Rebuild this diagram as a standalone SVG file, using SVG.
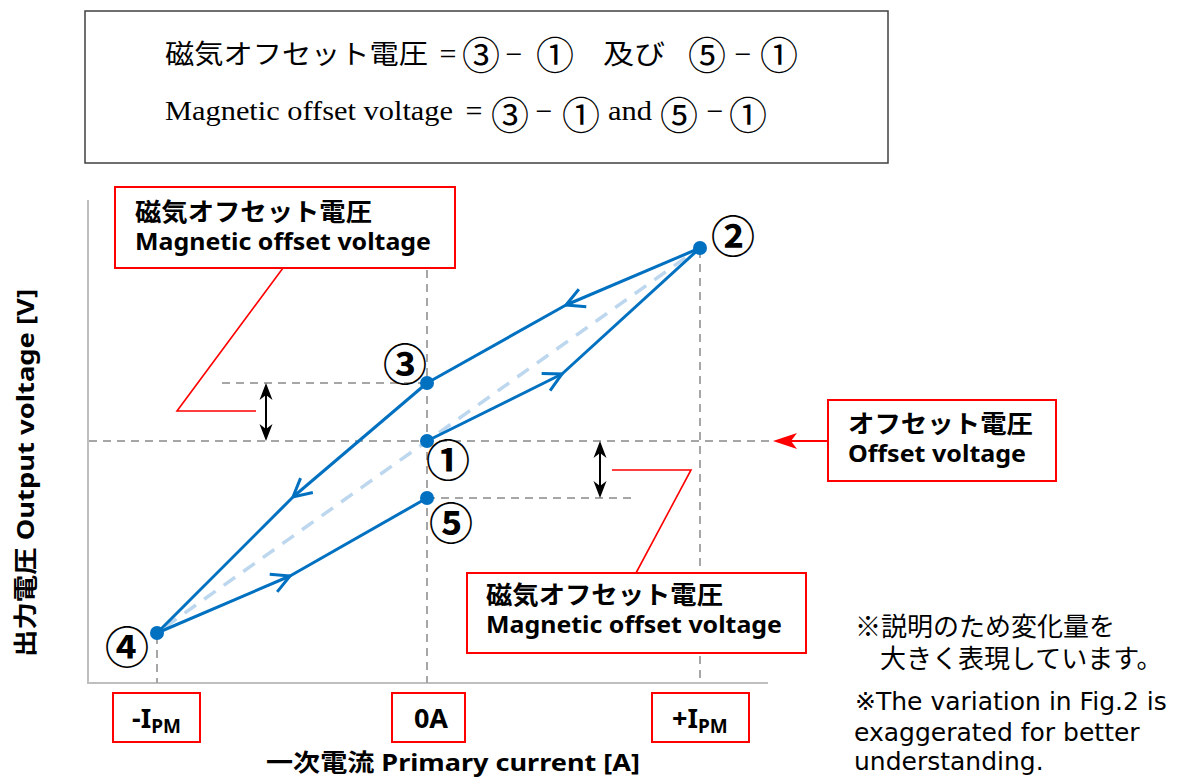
<svg xmlns="http://www.w3.org/2000/svg" width="1188" height="777" viewBox="0 0 1188 777">
<defs>
<style>
.grid{stroke:#A6A6A6;stroke-width:2;stroke-dasharray:8 6;fill:none}
.axis{stroke:#BFBFBF;stroke-width:2;fill:none}
.ideal{stroke:#BDD7EE;stroke-width:3.5;stroke-dasharray:14 10;fill:none}
.loop{stroke:#0070C0;stroke-width:3;fill:none;stroke-linejoin:round}
.dot{fill:#0070C0}
.red{stroke:#FF0000;stroke-width:2;fill:#fff}
.leader{stroke:#FF0000;stroke-width:1.6;fill:none}
.dbl{stroke:#000;stroke-width:2;fill:none}
.jp{font-family:"Noto Sans CJK JP",sans-serif;font-weight:bold;font-size:25px;fill:#000}
.en{font-family:"Noto Sans","Noto Sans CJK JP",sans-serif;font-weight:bold;font-size:24px;fill:#000}
.num{font-family:"Noto Sans CJK JP",sans-serif;font-weight:bold;font-size:44px;fill:#000;text-anchor:middle;dominant-baseline:central}
.eq{font-family:"Liberation Serif","Noto Sans CJK JP",serif;font-size:27px;fill:#000}
.eqj{font-family:"Noto Sans CJK JP",serif;font-size:27px;fill:#000}
.eqc{font-family:"Noto Sans CJK JP",serif;font-size:38px;fill:#000;text-anchor:middle;dominant-baseline:central}
.eqs{font-family:"Liberation Serif","Noto Sans CJK JP",serif;font-size:30px;fill:#000;text-anchor:middle}
.noteJ{font-family:"Noto Sans CJK JP",sans-serif;font-size:26px;fill:#000}
.noteE{font-family:"DejaVu Sans","Noto Sans CJK JP",sans-serif;font-size:25px;fill:#000}
.tick{font-family:"Noto Sans","Noto Sans CJK JP",sans-serif;font-weight:bold;font-size:27px;fill:#000}
</style>
<marker id="chev" markerUnits="userSpaceOnUse" orient="auto" markerWidth="40" markerHeight="40" viewBox="-25 -20 40 40" refX="0" refY="0" overflow="visible">
<path d="M-18,-9.5 L0,0 L-18,9.5" fill="none" stroke="#0070C0" stroke-width="3" stroke-linejoin="miter"/>
</marker>
<marker id="blk" markerUnits="userSpaceOnUse" orient="auto-start-reverse" markerWidth="40" markerHeight="40" viewBox="-20 -20 40 40" refX="0" refY="0" overflow="visible">
<path d="M10,0 L-7,-6.5 L-2,0 L-7,6.5 Z" fill="#000"/>
</marker>
<marker id="redh" markerUnits="userSpaceOnUse" orient="auto" markerWidth="40" markerHeight="40" viewBox="-20 -20 40 40" refX="0" refY="0" overflow="visible">
<path d="M10,0 L-14,-8 L-8,0 L-14,8 Z" fill="#FF0000"/>
</marker>
</defs>
<rect width="1188" height="777" fill="#fff"/>

<g id="formula-box">
<rect x="85" y="11" width="803" height="152" fill="#fff" stroke="#404040" stroke-width="1.5"/>
<text class="eqj" x="165" y="64" textLength="263" lengthAdjust="spacingAndGlyphs">磁気オフセット電圧</text>
<text class="eqs" x="448" y="64">=</text>
<text class="eqc" x="481" y="52">③</text>
<text class="eqs" x="514" y="64">−</text>
<text class="eqc" x="555" y="52">①</text>
<text class="eqj" x="603" y="64" textLength="62" lengthAdjust="spacingAndGlyphs">及び</text>
<text class="eqc" x="707" y="52">⑤</text>
<text class="eqs" x="743" y="64">−</text>
<text class="eqc" x="779" y="52">①</text>
<text class="eq" x="165" y="120" textLength="288" lengthAdjust="spacingAndGlyphs">Magnetic offset voltage</text>
<text class="eqs" x="474" y="121">=</text>
<text class="eqc" x="510" y="112">③</text>
<text class="eqs" x="544" y="121">−</text>
<text class="eqc" x="581" y="112">①</text>
<text class="eq" x="608" y="120" textLength="44" lengthAdjust="spacingAndGlyphs">and</text>
<text class="eqc" x="679" y="112">⑤</text>
<text class="eqs" x="715" y="121">−</text>
<text class="eqc" x="748" y="112">①</text>
</g>

<g id="axes">
<line class="axis" x1="88" y1="200" x2="88" y2="683"/>
<line class="axis" x1="87" y1="683" x2="768" y2="683"/>
</g>

<g id="guides">
<line class="grid" x1="427" y1="200" x2="427" y2="683"/>
<line class="grid" x1="700" y1="250" x2="700" y2="683"/>
<line class="grid" x1="157" y1="636" x2="157" y2="683"/>
<line class="grid" x1="89" y1="441" x2="770" y2="441"/>
<line class="grid" x1="222" y1="383" x2="427" y2="383"/>
<line class="grid" x1="427" y1="498" x2="634" y2="498"/>
</g>

<g id="connectors">
<line class="ideal" x1="165" y1="627" x2="695" y2="251"/>
<path class="loop" d="M427,441 L562,374" marker-end="url(#chev)"/>
<path class="loop" d="M562,374 L700,248"/>
<path class="loop" d="M700,248 L566,305" marker-end="url(#chev)"/>
<path class="loop" d="M566,305 L427,383"/>
<path class="loop" d="M427,383 L293,497" marker-end="url(#chev)"/>
<path class="loop" d="M293,497 L157,633"/>
<path class="loop" d="M157,633 L290,576" marker-end="url(#chev)"/>
<path class="loop" d="M290,576 L427,498"/>
<line class="dbl" x1="266" y1="393" x2="266" y2="431" marker-start="url(#blk)" marker-end="url(#blk)"/>
<line class="dbl" x1="600" y1="451" x2="600" y2="488" marker-start="url(#blk)" marker-end="url(#blk)"/>
<polyline class="leader" points="283,268 177,411 256,411"/>
<polyline class="leader" points="612,470 691,470 636,573"/>
<line x1="828" y1="441" x2="783" y2="441" stroke="#FF0000" stroke-width="2" marker-end="url(#redh)"/>
</g>

<g id="points">
<circle class="dot" cx="427" cy="441" r="7"/>
<circle class="dot" cx="700" cy="248" r="7"/>
<circle class="dot" cx="427" cy="383" r="7"/>
<circle class="dot" cx="157" cy="633" r="7"/>
<circle class="dot" cx="427" cy="498" r="7"/>
</g>

<g id="point-labels">
<text class="num" x="733" y="234">②</text>
<text class="num" x="405" y="362">③</text>
<text class="num" x="448" y="458">①</text>
<text class="num" x="451" y="521">⑤</text>
<text class="num" x="127" y="645">④</text>
</g>

<g id="callout-top">
<rect class="red" x="115" y="187" width="340" height="81"/>
<text class="jp" x="135" y="221" textLength="237" lengthAdjust="spacingAndGlyphs">磁気オフセット電圧</text>
<text class="en" x="135" y="250" textLength="296" lengthAdjust="spacingAndGlyphs">Magnetic offset voltage</text>
</g>

<g id="callout-bottom">
<rect class="red" x="467" y="573" width="339" height="80"/>
<text class="jp" x="486" y="604" textLength="237" lengthAdjust="spacingAndGlyphs">磁気オフセット電圧</text>
<text class="en" x="486" y="633" textLength="296" lengthAdjust="spacingAndGlyphs">Magnetic offset voltage</text>
</g>

<g id="callout-offset">
<rect class="red" x="828" y="400" width="228" height="81"/>
<text class="jp" x="848" y="433" textLength="185" lengthAdjust="spacingAndGlyphs">オフセット電圧</text>
<text class="en" x="848" y="462" textLength="178" lengthAdjust="spacingAndGlyphs">Offset voltage</text>
</g>

<g id="tick-minus">
<rect class="red" x="113" y="693" width="87" height="49"/>
<text class="tick" x="132" y="728">-I<tspan font-size="19" dy="5">PM</tspan></text>
</g>
<g id="tick-zero">
<rect class="red" x="392" y="693" width="73" height="49"/>
<text class="tick" x="431" y="728" text-anchor="middle">0A</text>
</g>
<g id="tick-plus">
<rect class="red" x="652" y="693" width="97" height="49"/>
<text class="tick" x="672" y="728">+I<tspan font-size="19" dy="5">PM</tspan></text>
</g>

<g id="axis-titles">
<text class="en" x="266" y="771" font-size="26" textLength="374" lengthAdjust="spacingAndGlyphs">一次電流 Primary current [A]</text>
<text class="en" transform="translate(34,473) rotate(-90)" x="-184" y="0" font-size="26" textLength="368" lengthAdjust="spacingAndGlyphs">出力電圧 Output voltage [V]</text>
</g>

<g id="notes">
<text class="noteJ" x="855" y="636">※説明のため変化量を</text>
<text class="noteJ" x="880" y="668">大きく表現しています。</text>
<text class="noteE" x="855" y="710">※The variation in Fig.2 is</text>
<text class="noteE" x="854" y="741">exaggerated for better</text>
<text class="noteE" x="854" y="770">understanding.</text>
</g>
</svg>
